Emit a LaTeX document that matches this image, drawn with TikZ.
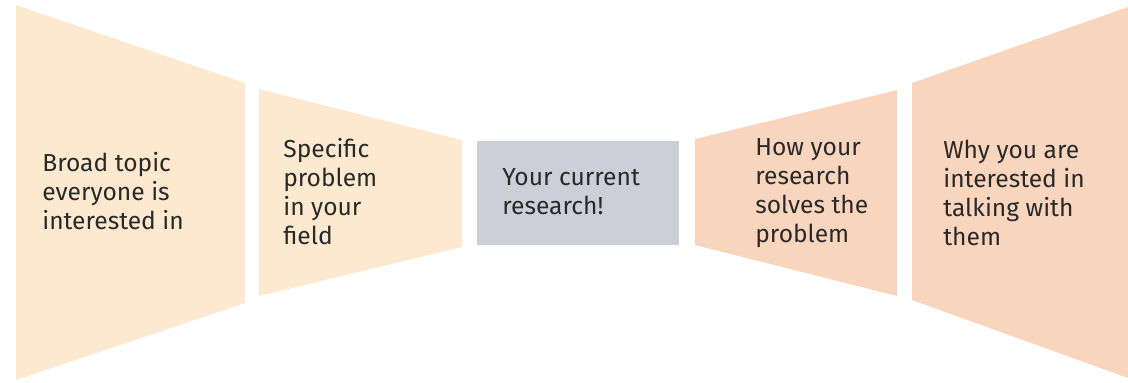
\documentclass[tikz,border=0pt]{standalone}
\usepackage{fontspec}
\setmainfont{Fira Sans}
\usetikzlibrary{positioning}
\definecolor{pitchsand}{rgb}{0.988, 0.914, 0.816}
\definecolor{pitchpeach}{rgb}{0.976, 0.835, 0.745}
\definecolor{pitchslate}{rgb}{0.800, 0.812, 0.847}
\definecolor{pitchink}{rgb}{0.16, 0.16, 0.16}

\begin{document}
\begin{tikzpicture}[x=0.02cm, y=-0.02cm, every node/.style={font=\fontsize{14}{16.5}\selectfont, text=pitchink, align=left, inner sep=0pt, anchor=north west}]
        \useasboundingbox (0,0) rectangle (1128,382);
        % narrowing in
        \fill[pitchsand] (16,5) -- (245,83) -- (245,303) -- (16,380) -- cycle;
        \fill[pitchsand] (259,89) -- (462,140) -- (462,247) -- (259,296) -- cycle;
        % the middle
        \fill[pitchslate] (477,141) rectangle (679,245);
        % widening out
        \fill[pitchpeach] (695,139) -- (897,90) -- (897,296) -- (695,245) -- cycle;
        \fill[pitchpeach] (912,83) -- (1128,7) -- (1128,378) -- (912,300) -- cycle;

        \node (broad) at (42,152) {Broad topic\\everyone is\\interested in};
        \node (specific) at (283,138) {Specific\\problem\\in your\\field};
        \node (current) at (502,168) {Your current\\research!};
        \node (solves) at (755,138) {How your\\research\\solves the\\problem};
        \node (why) at (943,140) {Why you are\\interested in\\talking with\\them};
    \end{tikzpicture}
\end{document}
